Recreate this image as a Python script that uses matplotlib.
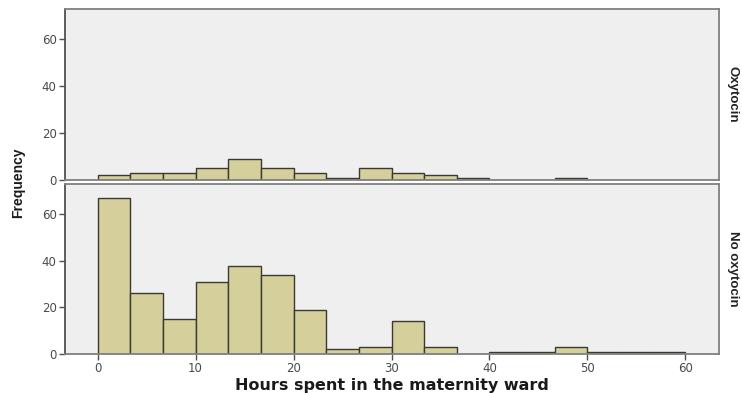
import numpy as np
import matplotlib.pyplot as plt

# Histogram of hours spent in the maternity ward, split by oxytocin use
bin_edges = np.linspace(0, 60, 19)  # 18 bins of 3.33 h
oxytocin_counts = [2, 3, 3, 5, 9, 5, 3, 1, 5, 3, 2, 1, 0, 0, 1, 0, 0, 0]
no_oxytocin_counts = [67, 26, 15, 31, 38, 34, 19, 2, 3, 14, 3, 0, 1, 1, 3, 1, 1, 1]
panel_labels = ["Oxytocin", "No oxytocin"]
x_ticks = [0, 10, 20, 30, 40, 50, 60]
y_ticks = [0, 20, 40, 60]

BAR_FILL = "#d4cf9b"
BAR_EDGE = "#3a3a30"
PANEL_BG = "#efefef"
FRAME = "#808080"
TICK_TEXT = "#4a4a4a"
NARROW = ["Liberation Sans", "DejaVu Sans"]

fig = plt.figure(figsize=(7.42, 3.93), dpi=100)
ax_top = fig.add_axes([0.0876, 0.542, 0.881, 0.435])
ax_bot = fig.add_axes([0.0876, 0.099, 0.881, 0.433])

widths = np.diff(bin_edges)
for ax, counts, label in zip([ax_top, ax_bot],
                             [oxytocin_counts, no_oxytocin_counts],
                             panel_labels):
    counts = np.asarray(counts)
    keep = counts > 0
    ax.bar(bin_edges[:-1][keep], counts[keep], width=widths[keep], align="edge",
           color=BAR_FILL, edgecolor=BAR_EDGE, linewidth=1.0, zorder=2)
    ax.set_facecolor(PANEL_BG)
    ax.set_xlim(-3.33, 63.4)
    ax.set_ylim(0, 73)
    ax.set_yticks(y_ticks)
    ax.set_xticks(x_ticks)
    for side, sp in ax.spines.items():
        sp.set_color(FRAME)
        sp.set_linewidth(1.3)
    ax.spines["left"].set_color("#505050")
    ax.tick_params(axis="both", direction="out", length=4, width=1,
                   color="#505050", labelcolor=TICK_TEXT, labelsize=8.5, pad=2)
    ax.text(1.012, 0.5, label, transform=ax.transAxes, rotation=-90,
            ha="left", va="center", fontsize=9.5, fontweight="bold",
            family=NARROW, color="#222222")

ax_top.tick_params(axis="x", bottom=False, labelbottom=False)
ax_bot.set_xlabel("Hours spent in the maternity ward", fontsize=11.5,
                  fontweight="bold", color="#1a1a1a", labelpad=2)

fig.text(0.024, 0.535, "Frequency", rotation=90, ha="center", va="center",
         fontsize=10, fontweight="bold", family=NARROW, color="#1a1a1a")

fig.savefig("out.png", dpi=100, facecolor="white")
